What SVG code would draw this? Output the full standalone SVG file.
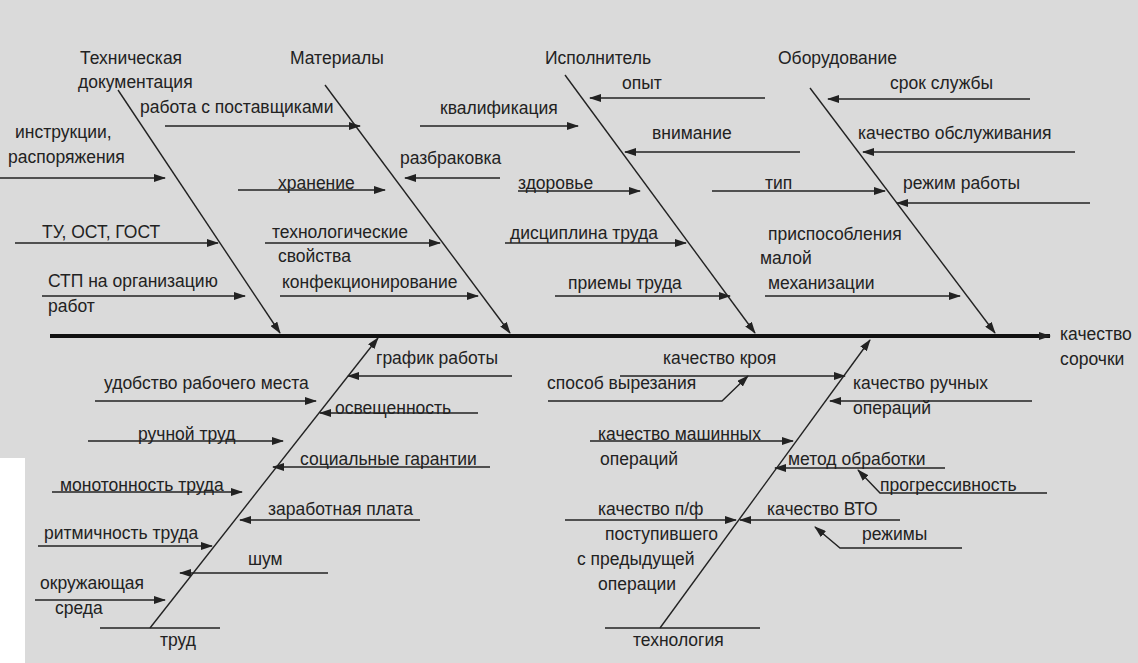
<svg xmlns="http://www.w3.org/2000/svg" width="1138" height="663" viewBox="0 0 1138 663">
<defs><marker id="a" markerWidth="12" markerHeight="8" refX="11" refY="4" orient="auto" markerUnits="userSpaceOnUse"><path d="M0,0 L12,4 L0,8 Z" fill="#222"/></marker></defs>
<style>text{font-family:"Liberation Sans",Arial,sans-serif;font-size:17.5px;fill:#222}.l{stroke:#222;stroke-width:1.6;fill:none}.r{stroke:#222;stroke-width:1.4;fill:none;marker-end:url(#a)}.s{stroke:#111;stroke-width:4;marker-end:url(#a)}</style>
<rect width="1138" height="663" fill="#dadada"/>
<rect x="0" y="458" width="25" height="205" fill="#fff"/>
<g id="connectors">
<line class="s" x1="50" y1="336" x2="1050" y2="336"/>
<line class="r" x1="118" y1="90" x2="280" y2="333"/>
<line class="r" x1="325" y1="85" x2="510" y2="333"/>
<line class="r" x1="565" y1="75" x2="755" y2="333"/>
<line class="r" x1="810" y1="88" x2="995" y2="333"/>
<line class="r" x1="150" y1="628" x2="378" y2="338"/>
<line class="l" x1="100" y1="628" x2="220" y2="628"/>
<line class="r" x1="660" y1="628" x2="870" y2="340"/>
<line class="l" x1="605" y1="628" x2="760" y2="628"/>
<line class="r" x1="0" y1="178" x2="165" y2="178"/>
<line class="r" x1="15" y1="243" x2="218" y2="243"/>
<line class="r" x1="42" y1="296" x2="245" y2="296"/>
<line class="r" x1="165" y1="126" x2="360" y2="126"/>
<line class="r" x1="500" y1="178" x2="405" y2="178"/>
<line class="r" x1="238" y1="190" x2="385" y2="190"/>
<line class="r" x1="265" y1="243" x2="440" y2="243"/>
<line class="r" x1="280" y1="296" x2="478" y2="296"/>
<line class="r" x1="765" y1="98" x2="590" y2="98"/>
<line class="r" x1="420" y1="126" x2="578" y2="126"/>
<line class="r" x1="800" y1="152" x2="625" y2="152"/>
<line class="r" x1="518" y1="191" x2="640" y2="191"/>
<line class="r" x1="505" y1="243" x2="686" y2="243"/>
<line class="r" x1="555" y1="296" x2="730" y2="296"/>
<line class="r" x1="1030" y1="99" x2="828" y2="99"/>
<line class="r" x1="1075" y1="152" x2="863" y2="152"/>
<line class="r" x1="712" y1="191" x2="885" y2="191"/>
<line class="r" x1="1090" y1="203" x2="897" y2="203"/>
<line class="r" x1="765" y1="296" x2="960" y2="296"/>
<line class="r" x1="512" y1="376" x2="348" y2="376"/>
<line class="r" x1="95" y1="401" x2="316" y2="401"/>
<line class="r" x1="478" y1="413" x2="320" y2="413"/>
<line class="r" x1="88" y1="441" x2="283" y2="441"/>
<line class="r" x1="490" y1="467" x2="273" y2="467"/>
<line class="r" x1="52" y1="492" x2="242" y2="492"/>
<line class="r" x1="420" y1="520" x2="240" y2="520"/>
<line class="r" x1="38" y1="546" x2="212" y2="546"/>
<line class="r" x1="328" y1="573" x2="180" y2="573"/>
<line class="r" x1="35" y1="600" x2="165" y2="600"/>
<line class="r" x1="620" y1="376" x2="845" y2="376"/>
<path class="r" d="M548,401 L722,401 L748,376"/>
<line class="r" x1="1032" y1="401" x2="830" y2="401"/>
<line class="r" x1="590" y1="441" x2="793" y2="441"/>
<line class="r" x1="945" y1="468" x2="775" y2="468"/>
<path class="r" d="M1047,493 L880,493 L858,470"/>
<line class="r" x1="900" y1="520" x2="740" y2="520"/>
<line class="r" x1="565" y1="520" x2="736" y2="520"/>
<path class="r" d="M962,548 L840,548 L815,527"/>
</g>
<g id="labels">
<text x="80" y="64">Техническая</text><text x="78" y="88">документация</text>
<text x="290" y="64">Материалы</text>
<text x="545" y="64">Исполнитель</text>
<text x="778" y="64">Оборудование</text>
<text x="1060" y="340">качество</text><text x="1060" y="365">сорочки</text>
<text x="160" y="646">труд</text>
<text x="633" y="646">технология</text>
<text x="15" y="138">инструкции,</text><text x="8" y="163">распоряжения</text>
<text x="42" y="238">ТУ, ОСТ, ГОСТ</text>
<text x="48" y="287">СТП на организацию</text><text x="48" y="312">работ</text>
<text x="140" y="113">работа с поставщиками</text>
<text x="400" y="164">разбраковка</text>
<text x="278" y="189">хранение</text>
<text x="272" y="238">технологические</text><text x="278" y="262">свойства</text>
<text x="282" y="288">конфекционирование</text>
<text x="622" y="89">опыт</text>
<text x="440" y="114">квалификация</text>
<text x="652" y="139">внимание</text>
<text x="518" y="189">здоровье</text>
<text x="510" y="239">дисциплина труда</text>
<text x="568" y="289">приемы труда</text>
<text x="890" y="89">срок службы</text>
<text x="858" y="139">качество обслуживания</text>
<text x="765" y="189">тип</text>
<text x="903" y="189">режим работы</text>
<text x="768" y="240">приспособления</text><text x="760" y="264">малой</text><text x="768" y="289">механизации</text>
<text x="376" y="364">график работы</text>
<text x="104" y="389">удобство рабочего места</text>
<text x="335" y="414">освещенность</text>
<text x="138" y="440">ручной  труд</text>
<text x="300" y="465">социальные гарантии</text>
<text x="60" y="491">монотонность труда</text>
<text x="268" y="515">заработная плата</text>
<text x="44" y="539">ритмичность труда</text>
<text x="248" y="565">шум</text>
<text x="40" y="589">окружающая</text><text x="55" y="614">среда</text>
<text x="663" y="364">качество кроя</text>
<text x="547" y="389">способ вырезания</text>
<text x="853" y="389">качество ручных</text><text x="853" y="414">операций</text>
<text x="598" y="440">качество машинных</text><text x="600" y="465">операций</text>
<text x="788" y="465">метод обработки</text>
<text x="880" y="491">прогрессивность</text>
<text x="767" y="515">качество ВТО</text>
<text x="598" y="515">качество п/ф</text><text x="605" y="540">поступившего</text><text x="577" y="565">с предыдущей</text><text x="598" y="590">операции</text>
<text x="862" y="540">режимы</text>
</g>
</svg>
